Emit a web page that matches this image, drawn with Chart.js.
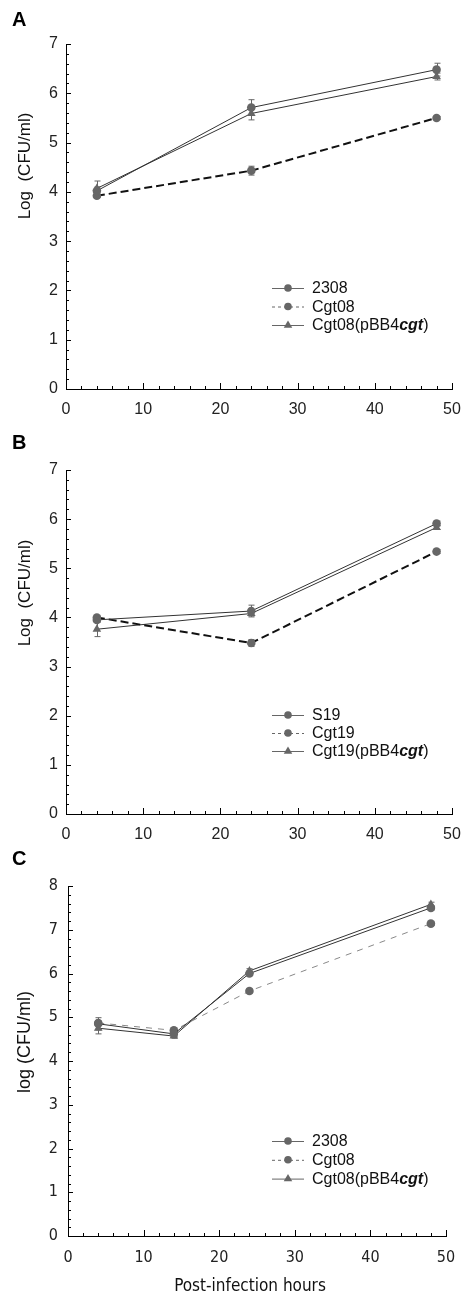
<!DOCTYPE html>
<html>
<head>
<meta charset="utf-8">
<script src="https://cdn.jsdelivr.net/npm/chart.js@4.4.1/dist/chart.umd.min.js"></script>
<style>
html, body { margin: 0; padding: 0; background: #fff; }
#page { position: relative; width: 474px; height: 1304px; overflow: hidden; }
.panel { position: absolute; left: 0; width: 474px; }
.letter { position: absolute; left: 12px; font: bold 20px "Liberation Sans", Arial, sans-serif; line-height: 1; color: #000; }
</style>
</head>
<body>
<div id="page">
  <div class="panel" style="top:0;height:430px"><canvas id="chartA"></canvas></div>
  <div class="panel" style="top:430px;height:420px"><canvas id="chartB"></canvas></div>
  <div class="panel" style="top:850px;height:454px"><canvas id="chartC"></canvas></div>
  <div class="letter" style="top:9px">A</div>
  <div class="letter" style="top:432px">B</div>
  <div class="letter" style="top:848px">C</div>
</div>
<script>
// horas post-infeccion
const hoursAB = [4, 24, 48];
const hoursC = [4, 14, 24, 48];

// panel A
const labelsA = ['2308', 'Cgt08', 'Cgt08(pBB4cgt)'];
const a2308 = [4.02, 5.71, 6.48];
const aCgt08 = [3.92, 4.43, 5.50];
const aComp = [4.07, 5.59, 6.34];
const a2308Err = [0.08, 0.16, 0.13];
const aCgt08Err = [0.03, 0.09, 0.03];
const aCompErr = [0.15, 0.13, 0.07];

// panel B
const labelsB = ['S19', 'Cgt19', 'Cgt19(pBB4cgt)'];
const bS19 = [3.95, 4.13, 5.91];
const bCgt19 = [4.00, 3.48, 5.34];
const bComp = [3.76, 4.08, 5.83];
const bS19Err = [0.05, 0.12, 0.05];
const bCgt19Err = [0.03, 0.07, 0.04];
const bCompErr = [0.15, 0.05, 0.04];

// panel C
const labelsC = ['2308', 'Cgt08', 'Cgt08(pBB4cgt)'];
const c2308 = [4.85, 4.62, 6.00, 7.50];
const cCgt08 = [4.87, 4.70, 5.60, 7.14];
const cComp = [4.75, 4.57, 6.06, 7.58];
const c2308Err = [0.14, 0.06, 0.05, 0.05];
const cCgt08Err = [0.05, 0.05, 0.05, 0.04];
const cCompErr = [0.13, 0.05, 0.05, 0.05];

// ticks
const xTickStep = 10;
const xMaxAB = 50;
const yMaxAB = 7;
const yMaxC = 8;

const SANS = '"Liberation Sans", Arial, sans-serif';
const NARROW = '"Liberation Sans Narrow", "DejaVu Sans Condensed", Arial, sans-serif';

function pts(xs, ys) {
    return xs.map((x, i) => ({ x: x, y: ys[i] }));
}

function drawMarker(ctx, style, r, x, y, color) {
    ctx.fillStyle = color;
    ctx.beginPath();
    if (style === 'triangle') {
        ctx.moveTo(x, y - r);
        ctx.lineTo(x + r * 0.95, y + r * 0.6);
        ctx.lineTo(x - r * 0.95, y + r * 0.6);
        ctx.closePath();
    } else {
        ctx.arc(x, y, r, 0, Math.PI * 2);
    }
    ctx.fill();
}

// dibuja barras de error, ticks hacia adentro, titulos y leyenda
const decorPlugin = {
    id: 'decor',
    beforeDatasetsDraw(chart, args, o) {
        const ctx = chart.ctx, xs = chart.scales.x, ys = chart.scales.y;
        ctx.save();
        ctx.strokeStyle = '#666';
        ctx.lineWidth = 1;
        chart.data.datasets.forEach(ds => {
            ds.data.forEach((p, j) => {
                const e = ds.errors[j];
                const px = Math.round(xs.getPixelForValue(p.x)) + 0.5;
                const t = ys.getPixelForValue(p.y + e), b = ys.getPixelForValue(p.y - e);
                ctx.beginPath();
                ctx.moveTo(px, t); ctx.lineTo(px, b);
                ctx.moveTo(px - 3, t); ctx.lineTo(px + 3, t);
                ctx.moveTo(px - 3, b); ctx.lineTo(px + 3, b);
                ctx.stroke();
            });
        });
        ctx.restore();
    },
    afterDraw(chart, args, o) {
        const ctx = chart.ctx, xs = chart.scales.x, ys = chart.scales.y, ca = chart.chartArea;
        ctx.save();
        ctx.strokeStyle = '#000';
        ctx.lineWidth = 1;
        ctx.beginPath();
        for (let v = xs.min; v <= xs.max + 1e-6; v += 2) {
            const major = Math.abs(v % 10) < 1e-6;
            const px = Math.round(xs.getPixelForValue(v)) + 0.5;
            ctx.moveTo(px, ca.bottom);
            ctx.lineTo(px, ca.bottom - (major ? 6 : 3));
        }
        for (let k = 0; k <= ys.max * 5; k++) {
            const v = k / 5;
            const major = k % 5 === 0;
            const py = Math.round(ys.getPixelForValue(v)) + 0.5;
            ctx.moveTo(ca.left, py);
            ctx.lineTo(ca.left + (major ? 5 : 3), py);
        }
        ctx.stroke();

        // titulo eje y
        ctx.fillStyle = '#111';
        ctx.save();
        ctx.translate(o.yTitle.x, o.yTitle.y);
        ctx.rotate(-Math.PI / 2);
        ctx.font = o.yTitle.size + 'px ' + o.yTitle.family;
        ctx.textAlign = 'center';
        ctx.textBaseline = 'middle';
        ctx.fillText(o.yTitle.text, 0, 0);
        ctx.restore();

        if (o.xTitle) {
            ctx.font = o.xTitle.size + 'px ' + o.xTitle.family;
            ctx.textAlign = 'center';
            ctx.textBaseline = 'middle';
            ctx.fillText(o.xTitle.text, o.xTitle.x, o.xTitle.y);
        }

        // leyenda
        const L = o.legend;
        chart.data.datasets.forEach((ds, i) => {
            const y = L.y + i * L.gap;
            ctx.strokeStyle = '#666';
            ctx.lineWidth = 1;
            ctx.setLineDash(ds.legendDash);
            ctx.beginPath();
            ctx.moveTo(L.x, y + 0.5);
            ctx.lineTo(L.x + 32, y + 0.5);
            ctx.stroke();
            ctx.setLineDash([]);
            drawMarker(ctx, ds.pointStyle, ds.pointStyle === 'triangle' ? 4.5 : 3.8, L.x + 16, y, '#666');
            ctx.fillStyle = '#111';
            ctx.textAlign = 'left';
            ctx.textBaseline = 'middle';
            let tx = L.x + 40;
            ds.label.split(/(cgt)(?=\))/).forEach((part, k) => {
                ctx.font = (k % 2 ? 'italic bold ' : '') + L.size + 'px ' + SANS;
                ctx.fillText(part, tx, y + 1);
                tx += ctx.measureText(part).width;
            });
        });
        ctx.restore();
    }
};

function makeDataset(label, hours, vals, errs, kind, dashedStyle) {
    const dashed = kind === 'dashed';
    return {
        label: label,
        data: pts(hours, vals),
        errors: errs,
        borderColor: dashed ? dashedStyle.color : '#333',
        borderWidth: dashed ? dashedStyle.width : 1,
        borderDash: dashed ? dashedStyle.dash : [],
        legendDash: dashed ? [3, 3] : [],
        pointStyle: kind === 'triangle' ? 'triangle' : 'circle',
        pointRadius: kind === 'triangle' ? 5 : 4.3,
        pointBackgroundColor: '#666',
        pointBorderColor: '#666',
        pointBorderWidth: 0,
        tension: 0,
        fill: false
    };
}

function buildChart(id, datasets, g) {
    const ctx = document.getElementById(id).getContext('2d');
    return new Chart(ctx, {
        type: 'line',
        data: { datasets: datasets },
        plugins: [decorPlugin],
        options: {
            responsive: true,
            maintainAspectRatio: false,
            animation: false,
            layout: { padding: { top: g.top, right: g.right, left: 0, bottom: 0 } },
            plugins: {
                legend: { display: false },
                tooltip: { enabled: false },
                decor: g.decor
            },
            scales: {
                x: {
                    type: 'linear',
                    min: 0,
                    max: xMaxAB,
                    afterFit: s => { s.height = g.xHeight; },
                    grid: { display: true, drawOnChartArea: false, drawTicks: false, color: 'transparent' },
                    border: { display: true, color: '#000', width: 1 },
                    ticks: { stepSize: xTickStep, padding: g.xPad, color: '#222', maxRotation: 0,
                             font: { family: g.tickFamily, size: g.tickSize } }
                },
                y: {
                    min: 0,
                    max: g.yMax,
                    afterFit: s => { s.width = g.yWidth; },
                    grid: { display: true, drawOnChartArea: false, drawTicks: false, color: 'transparent' },
                    border: { display: true, color: '#000', width: 1 },
                    ticks: { stepSize: 1, padding: g.yPad, color: '#222',
                             font: { family: g.tickFamily, size: g.tickSize } }
                }
            }
        }
    });
}

const boldDash = { color: '#111', width: 2, dash: [8, 4] };
const thinDash = { color: '#888', width: 1, dash: [6, 6] };

buildChart('chartA', [
    makeDataset(labelsA[0], hoursAB, a2308, a2308Err, 'solid'),
    makeDataset(labelsA[1], hoursAB, aCgt08, aCgt08Err, 'dashed', boldDash),
    makeDataset(labelsA[2], hoursAB, aComp, aCompErr, 'triangle')
], {
    top: 44, right: 22, xHeight: 41, yWidth: 66, xPad: 11, yPad: 8, yMax: yMaxAB,
    tickFamily: SANS, tickSize: 16,
    decor: {
        yTitle: { text: 'Log  (CFU/ml)', x: 25, y: 166, size: 17, family: SANS },
        legend: { x: 272, y: 288, gap: 18.5, size: 16 }
    }
});

buildChart('chartB', [
    makeDataset(labelsB[0], hoursAB, bS19, bS19Err, 'solid'),
    makeDataset(labelsB[1], hoursAB, bCgt19, bCgt19Err, 'dashed', boldDash),
    makeDataset(labelsB[2], hoursAB, bComp, bCompErr, 'triangle')
], {
    top: 40, right: 22, xHeight: 36, yWidth: 66, xPad: 11, yPad: 8, yMax: yMaxAB,
    tickFamily: SANS, tickSize: 16,
    decor: {
        yTitle: { text: 'Log  (CFU/ml)', x: 25, y: 163, size: 17, family: SANS },
        legend: { x: 272, y: 285, gap: 18, size: 16 }
    }
});

buildChart('chartC', [
    makeDataset(labelsC[0], hoursC, c2308, c2308Err, 'solid'),
    makeDataset(labelsC[1], hoursC, cCgt08, cCgt08Err, 'dashed', thinDash),
    makeDataset(labelsC[2], hoursC, cComp, cCompErr, 'triangle')
], {
    top: 36, right: 28, xHeight: 68, yWidth: 68, xPad: 12, yPad: 10, yMax: yMaxC,
    tickFamily: NARROW, tickSize: 16,
    decor: {
        yTitle: { text: 'log (CFU/ml)', x: 25, y: 192, size: 18, family: SANS },
        xTitle: { text: 'Post-infection hours', x: 250, y: 437, size: 17, family: NARROW },
        legend: { x: 272, y: 291, gap: 18.8, size: 16 }
    }
});
</script>
</body>
</html>
